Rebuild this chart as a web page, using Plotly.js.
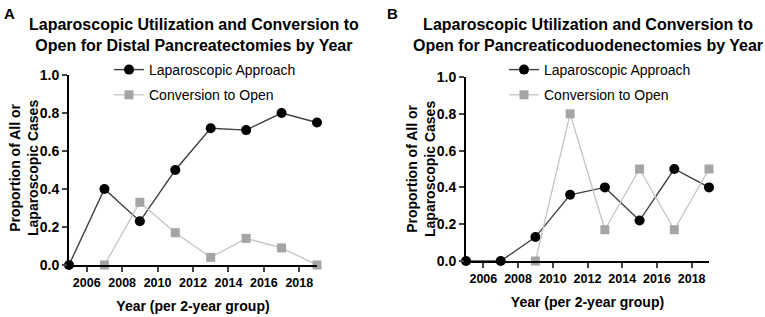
<!DOCTYPE html>
<html>
<head>
<meta charset="utf-8">
<script src="https://cdn.plot.ly/plotly-3.0.1.min.js"></script>
<style>html,body{margin:0;padding:0;background:#fff;}#chart{width:765px;height:317px;}</style>
</head>
<body>
<div id="chart"></div>
<script>
// ---- Data ----
const yearsA = [2005, 2007, 2009, 2011, 2013, 2015, 2017, 2019];
const lapA = [0.0, 0.40, 0.23, 0.50, 0.72, 0.71, 0.80, 0.75];
const convYearsA = [2007, 2009, 2011, 2013, 2015, 2017, 2019];
const convA = [0.0, 0.33, 0.17, 0.04, 0.14, 0.09, 0.0];

const yearsB = [2005, 2007, 2009, 2011, 2013, 2015, 2017, 2019];
const lapB = [0.0, 0.0, 0.13, 0.36, 0.40, 0.22, 0.50, 0.40];
const convYearsB = [2009, 2011, 2013, 2015, 2017, 2019];
const convB = [0.0, 0.80, 0.17, 0.50, 0.17, 0.50];

const xTicks = [2006, 2008, 2010, 2012, 2014, 2016, 2018];
const yTicks = [0, 0.2, 0.4, 0.6, 0.8, 1.0];
const seriesNames = ["Laparoscopic Approach", "Conversion to Open"];
const titleA = "Laparoscopic Utilization and Conversion to<br>Open for Distal Pancreatectomies by Year";
const titleB = "Laparoscopic Utilization and Conversion to<br>Open for Pancreaticoduodenectomies by Year";
const xTitle = "Year (per 2-year group)";
const yTitle = "Proportion of All or<br>Laparoscopic Cases";

// ---- Styles ----
const FONT = "Liberation Sans, Arial, sans-serif";
const W = 765, H = 317;
const lapStyle = {mode: "lines+markers", line: {color: "#404040", width: 1.4}, marker: {color: "#000", size: 10, symbol: "circle"}, cliponaxis: false};
const convStyle = {mode: "lines+markers", line: {color: "#c4c4c4", width: 1.3}, marker: {color: "#a5a5a5", size: 9, symbol: "square"}, cliponaxis: false};

const traces = [
  Object.assign({x: yearsA, y: lapA, name: seriesNames[0], xaxis: "x", yaxis: "y", legend: "legend", legendgroup: "a1"}, lapStyle),
  Object.assign({x: convYearsA, y: convA, name: seriesNames[1], xaxis: "x", yaxis: "y", legend: "legend", legendgroup: "a2"}, convStyle),
  Object.assign({x: yearsB, y: lapB, name: seriesNames[0], xaxis: "x2", yaxis: "y2", legend: "legend2", legendgroup: "b1"}, lapStyle),
  Object.assign({x: convYearsB, y: convB, name: seriesNames[1], xaxis: "x2", yaxis: "y2", legend: "legend2", legendgroup: "b2"}, convStyle)
];

function xa(x0, x1) {
  return {domain: [x0 / W, x1 / W], range: [2005, 2019], tickvals: xTicks, ticks: "outside", ticklen: 5, tickwidth: 2,
    showline: true, linecolor: "#000", linewidth: 2, showgrid: false, zeroline: false,
    tickfont: {family: FONT, size: 12.5, color: "#000", weight: "bold"},
    title: {text: xTitle, font: {family: FONT, size: 14, color: "#000", weight: "bold"}, standoff: 12}};
}
function ya(y0, y1) {
  return {domain: [1 - y1 / H, 1 - y0 / H], range: [0, 1], tickvals: yTicks, tickformat: ".1f", ticks: "outside", ticklen: 5, tickwidth: 2,
    showline: true, linecolor: "#000", linewidth: 2, showgrid: false, zeroline: false,
    tickfont: {family: FONT, size: 14, color: "#000", weight: "bold"}};
}
function leg(x, y) {
  return {x: x / W, y: 1 - y / H, xanchor: "left", yanchor: "top", bgcolor: "rgba(0,0,0,0)",
    font: {family: FONT, size: 14, color: "#000"}, tracegroupgap: 4, itemwidth: 30};
}
function txt(text, x, y, size, opts) {
  return Object.assign({text: text, xref: "paper", yref: "paper", x: x / W, y: 1 - y / H, showarrow: false,
    font: {family: FONT, size: size, color: "#000", weight: "bold"}}, opts || {});
}

const layout = {
  width: W, height: H, margin: {l: 0, r: 0, t: 0, b: 0}, paper_bgcolor: "#fff", plot_bgcolor: "#fff",
  showlegend: true, font: {family: FONT, color: "#000"},
  xaxis: xa(69, 317), yaxis: ya(75, 265),
  xaxis2: Object.assign(xa(466, 709), {anchor: "y2"}), yaxis2: Object.assign(ya(77, 261), {anchor: "x2"}),
  legend: leg(109, 54), legend2: leg(504, 54),
  annotations: [
    txt(titleA, 194, 14, 16, {xanchor: "center", yanchor: "top"}),
    txt(titleB, 588, 14, 16, {xanchor: "center", yanchor: "top"}),
    txt("A", 2, 3, 15, {xanchor: "left", yanchor: "top"}),
    txt("B", 385, 3, 15, {xanchor: "left", yanchor: "top"}),
    txt(yTitle, 24, 168, 14, {xanchor: "center", yanchor: "middle", textangle: -90}),
    txt(yTitle, 421, 169, 14, {xanchor: "center", yanchor: "middle", textangle: -90})
  ]
};
layout.xaxis.anchor = "y";
layout.yaxis.anchor = "x";

Plotly.newPlot("chart", traces, layout, {displayModeBar: false, staticPlot: true});
</script>
</body>
</html>
